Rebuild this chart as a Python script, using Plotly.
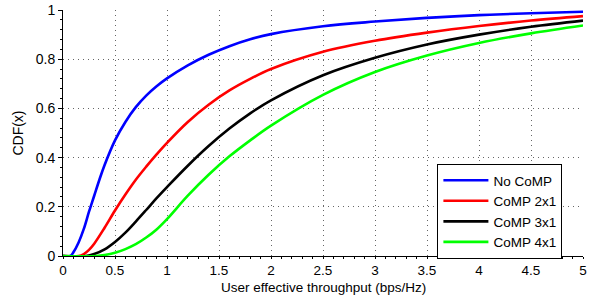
import plotly.graph_objects as go

# Data
x_nocomp = [0, 0.07, 0.1, 0.15, 0.2, 0.25, 0.3, 0.35, 0.4, 0.5, 0.6, 0.7, 0.8, 0.9, 1.0, 1.2, 1.4, 1.6, 1.8, 2.0, 2.5, 3.0, 3.5, 4.0, 4.5, 5.0]
y_nocomp = [0, 0.0, 0.015, 0.055, 0.11, 0.18, 0.245, 0.31, 0.37, 0.47, 0.545, 0.605, 0.652, 0.69, 0.722, 0.775, 0.818, 0.853, 0.881, 0.902, 0.934, 0.953, 0.968, 0.979, 0.987, 0.993]

x_comp2 = [0, 0.15, 0.2, 0.25, 0.3, 0.4, 0.5, 0.6, 0.7, 0.8, 0.9, 1.0, 1.2, 1.4, 1.6, 1.8, 2.0, 2.5, 3.0, 3.5, 4.0, 4.5, 5.0]
y_comp2 = [0, 0.0, 0.008, 0.025, 0.05, 0.115, 0.185, 0.25, 0.31, 0.363, 0.413, 0.46, 0.545, 0.615, 0.673, 0.72, 0.76, 0.83, 0.875, 0.908, 0.935, 0.957, 0.975]

x_comp3 = [0, 0.22, 0.3, 0.4, 0.5, 0.6, 0.7, 0.8, 0.9, 1.0, 1.2, 1.4, 1.6, 1.8, 2.0, 2.5, 3.0, 3.5, 4.0, 4.5, 5.0]
y_comp3 = [0, 0.0, 0.008, 0.027, 0.057, 0.095, 0.14, 0.187, 0.235, 0.28, 0.367, 0.447, 0.518, 0.58, 0.633, 0.735, 0.806, 0.86, 0.9, 0.932, 0.957]

x_comp4 = [0, 0.32, 0.4, 0.5, 0.6, 0.7, 0.8, 0.9, 1.0, 1.2, 1.4, 1.6, 1.8, 2.0, 2.5, 3.0, 3.5, 4.0, 4.5, 5.0]
y_comp4 = [0, 0.0, 0.004, 0.013, 0.028, 0.048, 0.075, 0.108, 0.15, 0.245, 0.33, 0.405, 0.47, 0.53, 0.655, 0.748, 0.815, 0.866, 0.905, 0.937]

names = ["No CoMP", "CoMP 2x1", "CoMP 3x1", "CoMP 4x1"]
colors = ["#0000ff", "#ff0000", "#000000", "#00ff00"]
xs = [x_nocomp, x_comp2, x_comp3, x_comp4]
ys = [y_nocomp, y_comp2, y_comp3, y_comp4]

x_ticks = [0, 0.5, 1, 1.5, 2, 2.5, 3, 3.5, 4, 4.5, 5]
x_ticklabels = ["0", "0.5", "1", "1.5", "2", "2.5", "3", "3.5", "4", "4.5", "5"]
y_ticks = [0, 0.2, 0.4, 0.6, 0.8, 1]
y_ticklabels = ["0", "0.2", "0.4", "0.6", "0.8", "1"]
x_title = "User effective throughput (bps/Hz)"
y_title = "CDF(x)"

fig = go.Figure()
for x, y, n, c in zip(xs, ys, names, colors):
    fig.add_trace(go.Scatter(x=x, y=y, name=n, mode="lines",
                             line=dict(color=c, width=2.6, shape="spline", smoothing=1.0)))

font = dict(family="Liberation Sans, Arial, sans-serif", size=14, color="#000")
xtick_font = dict(family="Liberation Sans, Arial, sans-serif", size=13.5, color="#000")
title_font = dict(family="Liberation Sans, Arial, sans-serif", size=13.5, color="#000")
legend_font = dict(family="Liberation Sans, Arial, sans-serif", size=13.5, color="#000")
grid_dash = "1px,4px"
fig.update_layout(
    width=600, height=297,
    margin=dict(l=63, r=17, t=10, b=41),
    paper_bgcolor="white", plot_bgcolor="white",
    font=font,
    showlegend=True,
    legend=dict(x=0.72, y=0.374, xanchor="left", yanchor="top",
                bordercolor="#000", borderwidth=1, bgcolor="white",
                font=legend_font, itemwidth=45, tracegroupgap=0),
    annotations=[dict(text=x_title, xref="paper", yref="paper", x=0.5, y=-0.128,
                      xanchor="center", yanchor="middle", showarrow=False, font=title_font)],
)
fig.update_xaxes(
    range=[0, 5], tickvals=x_ticks, ticktext=x_ticklabels, tickfont=xtick_font,
    showline=True, linecolor="#000", linewidth=1, mirror=False,
    ticks="outside", ticklen=2, tickcolor="#000",
    minor=dict(ticks="outside", ticklen=2, dtick=0.1, tickcolor="#000", showgrid=False),
    showgrid=True, gridcolor="#666", griddash=grid_dash, gridwidth=1,
    zeroline=False, automargin=False,
)
fig.update_yaxes(
    range=[0, 1], tickvals=y_ticks, ticktext=y_ticklabels,
    showline=True, linecolor="#000", linewidth=1, mirror=False,
    ticks="outside", ticklen=4, tickcolor="#000",
    minor=dict(ticks="outside", ticklen=2, dtick=0.04, tickcolor="#000", showgrid=False),
    showgrid=True, gridcolor="#666", griddash=grid_dash, gridwidth=1,
    zeroline=False, automargin=False,
    title=dict(text=y_title, standoff=8, font=font),
)

fig.write_html("out.html", config={"displayModeBar": False},
               post_script="document.body.style.margin='0';")
